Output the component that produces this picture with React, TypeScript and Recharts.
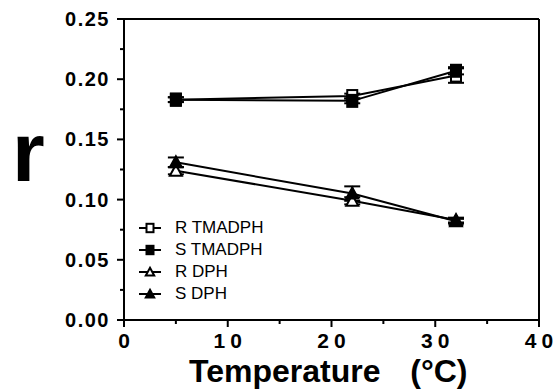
import {
  ErrorBar,
  Legend,
  Line,
  LineChart,
  ReferenceLine,
  XAxis,
  YAxis,
} from "recharts";

const temps = [5, 22, 32];
const rTmadph = [0.183, 0.186, 0.203];
const sTmadph = [0.183, 0.182, 0.207];
const rDph = [0.124, 0.099, 0.083];
const sDph = [0.131, 0.105, 0.082];

const rTmadphErr = [0.002, 0.002, 0.006];
const sTmadphErr = [0.002, 0.002, 0.003];
const rDphErr = [0.003, 0.003, 0.002];
const sDphErr = [0.004, 0.006, 0.002];

const xTicks = [0, 5, 10, 15, 20, 25, 30, 35, 40];
const yTicks = [0, 0.025, 0.05, 0.075, 0.1, 0.125, 0.15, 0.175, 0.2, 0.225, 0.25];

const series = [
  { name: "R TMADPH", values: rTmadph, errs: rTmadphErr, shape: "square", filled: false },
  { name: "S TMADPH", values: sTmadph, errs: sTmadphErr, shape: "square", filled: true },
  { name: "R DPH", values: rDph, errs: rDphErr, shape: "triangle", filled: false },
  { name: "S DPH", values: sDph, errs: sDphErr, shape: "triangle", filled: true },
];

const toRows = (values: number[], errs: number[]) =>
  temps.map((t, i) => ({ x: t, y: values[i], err: errs[i] }));

const font = "Arial, 'Liberation Sans', Helvetica, sans-serif";

function Marker({ cx, cy, shape, filled, small }: any) {
  if (cx == null || cy == null) return null;
  const fill = filled ? "#000" : "#fff";
  const s = small ? 0.7 : 1;
  if (shape === "square") {
    return (
      <rect
        x={cx - 5 * s}
        y={cy - 6 * s}
        width={10 * s}
        height={12 * s}
        fill={fill}
        stroke="#000"
        strokeWidth={2}
      />
    );
  }
  return (
    <polygon
      points={`${cx},${cy - 6 * s} ${cx + 6 * s},${cy + 5 * s} ${cx - 6 * s},${cy + 5 * s}`}
      fill={fill}
      stroke="#000"
      strokeWidth={2}
    />
  );
}

function XTick({ x, y, payload }: any) {
  const major = payload.value % 10 === 0;
  return (
    <g>
      <line x1={x} y1={y} x2={x} y2={y + (major ? 7 : 4)} stroke="#000" strokeWidth={2} />
      {major && (
        <text
          x={x + 2.5}
          y={y + 28}
          textAnchor="middle"
          fontFamily={font}
          fontWeight="bold"
          fontSize={21}
          letterSpacing={5}
          fill="#000"
        >
          {payload.value}
        </text>
      )}
    </g>
  );
}

function YTick({ x, y, payload }: any) {
  const major = Math.round(payload.value * 1000) % 50 === 0;
  return (
    <g>
      <line x1={x} y1={y} x2={x - (major ? 7 : 4)} y2={y} stroke="#000" strokeWidth={2} />
      {major && (
        <text
          x={x - 14}
          y={y + 7}
          textAnchor="end"
          fontFamily={font}
          fontWeight="bold"
          fontSize={20}
          letterSpacing={1.5}
          fill="#000"
        >
          {payload.value.toFixed(2)}
        </text>
      )}
    </g>
  );
}

function LegendBox() {
  return (
    <div style={{ fontFamily: font, fontSize: 17, color: "#000" }}>
      {series.map((s) => (
        <div key={s.name} style={{ display: "flex", alignItems: "center", height: 22 }}>
          <svg width={28} height={22}>
            <line x1={3} y1={11} x2={25} y2={11} stroke="#000" strokeWidth={2} />
            <Marker cx={14} cy={11} shape={s.shape} filled={s.filled} small />
          </svg>
          <span style={{ marginLeft: 11 }}>{s.name}</span>
        </div>
      ))}
    </div>
  );
}

export default function App() {
  return (
    <div style={{ position: "absolute", left: 0, top: 0, width: 557, height: 390, background: "#fff" }}>
      <LineChart width={557} height={390} margin={{ top: 19, right: 18, bottom: 40, left: 0 }}>
        <XAxis
          type="number"
          dataKey="x"
          domain={[0, 40]}
          ticks={xTicks}
          interval={0}
          height={30}
          tickSize={0}
          tickMargin={0}
          tickLine={false}
          tick={<XTick />}
          axisLine={{ stroke: "#000", strokeWidth: 2 }}
          allowDuplicatedCategory={false}
        />
        <YAxis
          type="number"
          domain={[0, 0.25]}
          ticks={yTicks}
          interval={0}
          width={124}
          tickSize={0}
          tickMargin={0}
          tickLine={false}
          tick={<YTick />}
          axisLine={{ stroke: "#000", strokeWidth: 2 }}
        />
        <ReferenceLine y={0.25} stroke="#000" strokeWidth={2} />
        <ReferenceLine x={40} stroke="#000" strokeWidth={2} />
        {series.map((s) => (
          <Line
            key={s.name}
            data={toRows(s.values, s.errs)}
            dataKey="y"
            name={s.name}
            stroke="#000"
            strokeWidth={2}
            isAnimationActive={false}
            dot={(p: any) => (
              <Marker key={`${s.name}-${p.index}`} cx={p.cx} cy={p.cy} shape={s.shape} filled={s.filled} />
            )}
            activeDot={false}
          >
            <ErrorBar dataKey="err" width={8} stroke="#000" strokeWidth={2} direction="y" />
          </Line>
        ))}
        <Legend
          content={<LegendBox />}
          layout="vertical"
          align="center"
          verticalAlign="middle"
          wrapperStyle={{ position: "absolute", left: 136, top: 217, width: 160 }}
        />
      </LineChart>
      <div
        style={{
          position: "absolute",
          left: 12,
          top: 110,
          fontFamily: font,
          fontWeight: "bold",
          fontSize: 84,
          lineHeight: "84px",
          color: "#000",
        }}
      >
        r
      </div>
      <div
        style={{
          position: "absolute",
          left: 189,
          top: 356,
          fontFamily: font,
          fontWeight: "bold",
          fontSize: 32,
          lineHeight: "30px",
          wordSpacing: 6,
          whiteSpace: "pre",
          color: "#000",
        }}
      >
        {"Temperature  (°C)"}
      </div>
    </div>
  );
}
